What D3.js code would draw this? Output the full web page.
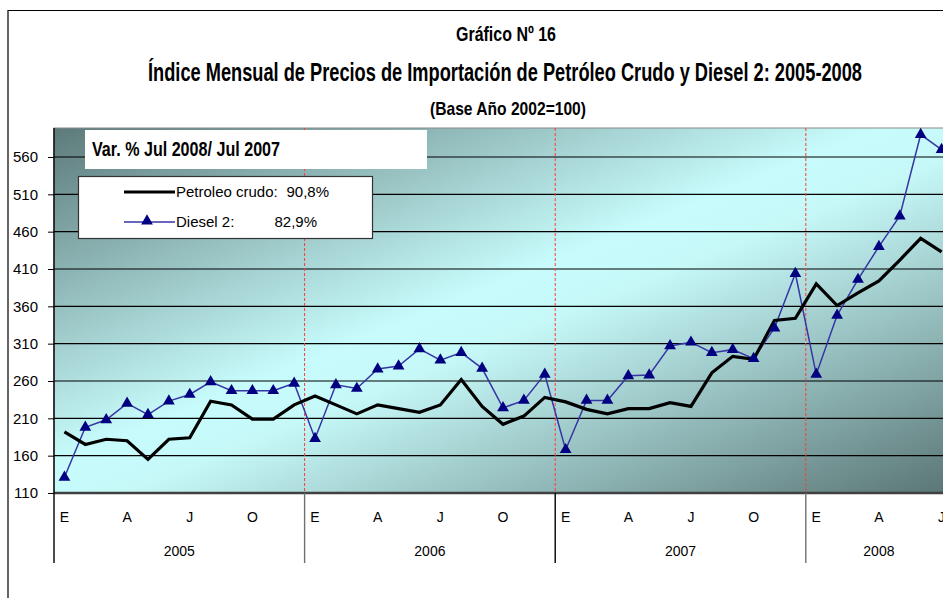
<!DOCTYPE html>
<meta charset="utf-8">
<style>
  body { margin: 0; background: #fff; }
  text { font-family: "Liberation Sans", Arial, sans-serif; }
  .narrow { font-family: "Liberation Sans Narrow", "Liberation Sans", Arial, sans-serif; }
</style>
<script src="https://d3js.org/d3.v7.min.js"></script>
<div id="my_dataviz"></div>
<script>

// month labels shown on the axis (E, A, J, O)
var monthLabels = ["E", "", "", "A", "", "", "J", "", "", "O", "", ""];
var years = ["2005", "2006", "2007", "2008"];
var monthsPerYear = [12, 12, 12, 7];
var yTicks = [110, 160, 210, 260, 310, 360, 410, 460, 510, 560];

// Petroleo crudo, Ene 2005 - Jul 2008
var crude = [192, 175, 182, 180, 155, 182, 184, 233, 228, 209, 209, 228,
             240, 228, 216, 228, 223, 218, 228, 262, 226, 202, 213, 238,
             232, 222, 216, 223, 223, 231, 226, 271, 293, 289, 341, 344,
             390, 361, 378, 394, 422, 451, 433];

// Diesel 2, Ene 2005 - Jul 2008
var diesel = [131, 198, 208, 230, 215, 233, 242, 259, 247, 247, 247, 257,
              183, 255, 250, 276, 280, 303, 288, 298, 277, 224, 234, 269,
              168, 234, 234, 267, 268, 307, 312, 298, 302, 290, 331, 404,
              269, 348, 396, 440, 481, 590, 570];

var W = 943, H = 598;
var plot = {left: 54, top: 128, right: 952, bottom: 493};
var nMonths = d3.sum(monthsPerYear);

var svg = d3.select("#my_dataviz")
  .append("svg")
    .attr("width", W)
    .attr("height", H);

// outer frame
svg.append("path")
  .attr("d", "M8," + H + "V10.5H" + (W + 5))
  .attr("fill", "none")
  .attr("stroke", "#000")
  .attr("stroke-width", 1.2);

// titles
svg.append("text").attr("class", "narrow")
  .attr("x", 506).attr("y", 41)
  .attr("text-anchor", "middle")
  .attr("font-size", 20).attr("font-weight", "bold")
  .attr("textLength", 100).attr("lengthAdjust", "spacingAndGlyphs")
  .text("Gráfico Nº 16");
svg.append("text").attr("class", "narrow")
  .attr("x", 505).attr("y", 81)
  .attr("text-anchor", "middle")
  .attr("font-size", 25).attr("font-weight", "bold")
  .attr("textLength", 714).attr("lengthAdjust", "spacingAndGlyphs")
  .text("Índice Mensual de Precios de Importación de Petróleo Crudo y Diesel 2: 2005-2008");
svg.append("text").attr("class", "narrow")
  .attr("x", 508).attr("y", 115)
  .attr("text-anchor", "middle")
  .attr("font-size", 19).attr("font-weight", "bold")
  .attr("textLength", 156).attr("lengthAdjust", "spacingAndGlyphs")
  .text("(Base Año 2002=100)");

// scales
var x = d3.scaleLinear()
  .domain([0, nMonths])
  .range([plot.left, plot.right]);
var y = d3.scaleLinear()
  .domain([110, 560])
  .range([plot.bottom, 157]);

// background gradient
var grad = svg.append("defs").append("linearGradient")
  .attr("id", "bg")
  .attr("x1", 0).attr("y1", 0).attr("x2", 1).attr("y2", 1);
grad.append("stop").attr("offset", 0).attr("stop-color", "#5d7a7a");
grad.append("stop").attr("offset", 0.46).attr("stop-color", "#c8fcfc");
grad.append("stop").attr("offset", 0.54).attr("stop-color", "#c6f8f8");
grad.append("stop").attr("offset", 1).attr("stop-color", "#5a7575");

svg.append("rect")
  .attr("x", plot.left).attr("y", plot.top)
  .attr("width", plot.right - plot.left)
  .attr("height", plot.bottom - plot.top)
  .attr("fill", "url(#bg)")
  .attr("stroke", "#8a8a8a");

// gridlines
svg.append("g")
  .selectAll("line")
  .data(yTicks)
  .enter()
  .append("line")
    .attr("x1", plot.left).attr("x2", plot.right)
    .attr("y1", d => y(d)).attr("y2", d => y(d))
    .attr("stroke", "#000")
    .attr("stroke-width", 1.2);

// year starts
var yearStart = [];
var acc = 0;
monthsPerYear.forEach(function(m) { yearStart.push(acc); acc += m; });

// red dashed separators
svg.append("g")
  .selectAll("line")
  .data(yearStart.slice(1))
  .enter()
  .append("line")
    .attr("x1", d => x(d)).attr("x2", d => x(d))
    .attr("y1", plot.top).attr("y2", plot.bottom)
    .attr("stroke", "#ff3a3a")
    .attr("stroke-dasharray", "3,2");

// Y axis
var yAxis = svg.append("g")
  .attr("transform", "translate(" + plot.left + ",0)")
  .call(d3.axisLeft(y).tickValues(yTicks).tickSize(6).tickPadding(10));
yAxis.select(".domain").remove();
yAxis.selectAll("text").attr("font-size", 15).attr("fill", "#000")
  .style("font-family", "'Liberation Sans', Arial, sans-serif");
yAxis.selectAll("line").attr("stroke", "#000");

// bottom axis line
svg.append("line")
  .attr("x1", plot.left).attr("x2", plot.right)
  .attr("y1", plot.bottom).attr("y2", plot.bottom)
  .attr("stroke", "#404040").attr("stroke-width", 2.5);

// year separators under axis
svg.append("g")
  .selectAll("line")
  .data(yearStart.concat([nMonths]))
  .enter()
  .append("line")
    .attr("x1", d => x(d)).attr("x2", d => x(d))
    .attr("y1", d => d == 0 ? plot.top : plot.bottom)
    .attr("y2", 563)
    .attr("stroke", (d, i) => i % 2 ? "#707070" : "#000")
    .attr("stroke-width", 1.4);

// month labels
var monthIdx = d3.range(nMonths).filter(i => monthLabels[i % 12] != "");
svg.append("g")
  .selectAll("text")
  .data(monthIdx)
  .enter()
  .append("text")
    .attr("x", d => x(d + 0.5))
    .attr("y", 522)
    .attr("text-anchor", "middle")
    .attr("font-size", 14)
    .text(d => monthLabels[d % 12]);

// year labels
svg.append("g")
  .selectAll("text")
  .data(years)
  .enter()
  .append("text")
    .attr("x", (d, i) => x(yearStart[i] + monthsPerYear[i] / 2))
    .attr("y", 556)
    .attr("text-anchor", "middle")
    .attr("font-size", 14)
    .text(d => d);

// series
var line = d3.line()
  .x((d, i) => x(i + 0.5))
  .y(d => y(d));

svg.append("path")
  .datum(diesel)
  .attr("d", line)
  .attr("fill", "none")
  .attr("stroke", "#3535a5")
  .attr("stroke-width", 1.5);

svg.append("path")
  .datum(crude)
  .attr("d", line)
  .attr("fill", "none")
  .attr("stroke", "#000")
  .attr("stroke-width", 3.2)
  .attr("stroke-linejoin", "miter");

var tri = d3.symbol().type(d3.symbolTriangle).size(60);
svg.append("g")
  .selectAll("path")
  .data(diesel)
  .enter()
  .append("path")
    .attr("d", tri)
    .attr("transform", (d, i) => "translate(" + x(i + 0.5) + "," + y(d) + ")")
    .attr("fill", "#000080");

// variation box
svg.append("rect")
  .attr("x", 85).attr("y", 130)
  .attr("width", 342).attr("height", 39)
  .attr("fill", "#fff");
svg.append("text").attr("class", "narrow")
  .attr("x", 92).attr("y", 156)
  .attr("font-size", 20).attr("font-weight", "bold")
  .attr("textLength", 188).attr("lengthAdjust", "spacingAndGlyphs")
  .text("Var. % Jul 2008/ Jul 2007");

// legend
var legend = svg.append("g");
legend.append("rect")
  .attr("x", 78.5).attr("y", 176.5)
  .attr("width", 294).attr("height", 62)
  .attr("fill", "#fff")
  .attr("stroke", "#333")
  .attr("stroke-width", 1.2);
legend.append("line")
  .attr("x1", 124).attr("x2", 175).attr("y1", 192).attr("y2", 192)
  .attr("stroke", "#000").attr("stroke-width", 3);
legend.append("line")
  .attr("x1", 124).attr("x2", 175).attr("y1", 222).attr("y2", 222)
  .attr("stroke", "#3535a5").attr("stroke-width", 1.5);
legend.append("path")
  .attr("d", tri)
  .attr("transform", "translate(147,221)")
  .attr("fill", "#000080");
legend.append("text")
  .attr("x", 176).attr("y", 197).attr("font-size", 15)
  .text("Petroleo crudo:");
legend.append("text")
  .attr("x", 329).attr("y", 197).attr("font-size", 15)
  .attr("text-anchor", "end")
  .text("90,8%");
legend.append("text")
  .attr("x", 176).attr("y", 227).attr("font-size", 15)
  .text("Diesel 2:");
legend.append("text")
  .attr("x", 317).attr("y", 227).attr("font-size", 15)
  .attr("text-anchor", "end")
  .text("82,9%");

</script>
